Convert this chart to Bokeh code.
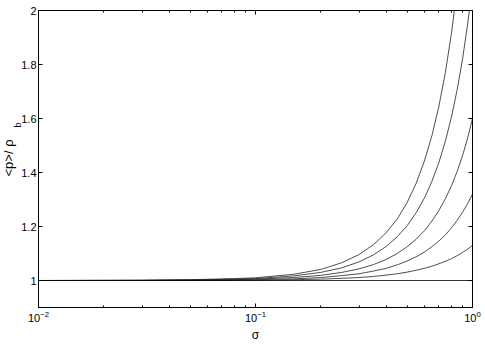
from bokeh.plotting import figure
from bokeh.models import (Range1d, LogAxis, LinearAxis, FixedTicker, Title,
                          CustomJSTickFormatter, LogTickFormatter)
from bokeh.embed import file_html
from bokeh.resources import INLINE

sigma = [0.01, 0.03, 0.05, 0.08, 0.1, 0.15, 0.2, 0.25, 0.3, 0.35, 0.4, 0.45,
         0.5, 0.55, 0.6, 0.65, 0.7, 0.75, 0.8, 0.85, 0.9, 0.95, 1.0]
curve1 = [1.000, 1.001, 1.003, 1.007, 1.010, 1.023, 1.041, 1.066, 1.096, 1.133, 1.177, 1.228,
          1.289, 1.360, 1.442, 1.536, 1.645, 1.771, 1.916, 2.083, 2.277, 2.502, 2.762]
curve2 = [1.000, 1.001, 1.002, 1.005, 1.007, 1.017, 1.030, 1.047, 1.069, 1.095, 1.126, 1.162,
          1.203, 1.251, 1.305, 1.367, 1.437, 1.516, 1.606, 1.707, 1.821, 1.950, 2.096]
curve3 = [1.000, 1.000, 1.001, 1.003, 1.005, 1.011, 1.019, 1.030, 1.043, 1.059, 1.078, 1.100,
          1.125, 1.153, 1.184, 1.220, 1.259, 1.303, 1.351, 1.404, 1.463, 1.528, 1.600]
curve4 = [1.000, 1.000, 1.001, 1.002, 1.003, 1.006, 1.011, 1.018, 1.025, 1.035, 1.045, 1.058,
          1.072, 1.088, 1.105, 1.125, 1.146, 1.169, 1.195, 1.223, 1.253, 1.285, 1.320]
curve5 = [1.000, 1.000, 1.000, 1.001, 1.001, 1.003, 1.005, 1.008, 1.011, 1.015, 1.020, 1.025,
          1.031, 1.038, 1.045, 1.053, 1.062, 1.071, 1.081, 1.092, 1.104, 1.116, 1.130]
base_x = [0.01, 1.0]
base_y = [1.0, 1.0]
x_ticks = [0.01, 0.1, 1.0]
x_minor = [0.02, 0.03, 0.04, 0.05, 0.06, 0.07, 0.08, 0.09,
           0.2, 0.3, 0.4, 0.5, 0.6, 0.7, 0.8, 0.9]
y_ticks = [1, 1.2, 1.4, 1.6, 1.8, 2]
y_tick_labels = ["1", "1.2", "1.4", "1.6", "1.8", "2"]
x_label = "σ"
y_label = "<p>/ ρ"
y_label_sub = "b"

FONT = "Liberation Sans"

p = figure(width=485, height=344, x_axis_type="log", output_backend="svg",
           toolbar_location=None, x_range=Range1d(0.01, 1.0), y_range=Range1d(0.9, 2.0),
           min_border_left=35, min_border_top=10, min_border_right=13, min_border_bottom=34)
p.xgrid.visible = False
p.ygrid.visible = False
p.outline_line_color = "black"
p.outline_line_width = 1
p.background_fill_color = "white"
p.border_fill_color = "white"

for c in [curve1, curve2, curve3, curve4, curve5]:
    p.line(sigma, c, line_color="#222222", line_width=0.8)
p.line(base_x, base_y, line_color="black", line_width=0.8)

xa = p.xaxis[0]
xa.ticker = FixedTicker(ticks=x_ticks, minor_ticks=x_minor)
xa.formatter = LogTickFormatter()
ya = p.yaxis[0]
ya.ticker = FixedTicker(ticks=y_ticks)
ya.major_label_overrides = {t: l for t, l in zip(y_ticks, y_tick_labels)}

for ax in (xa, ya):
    ax.major_tick_in = 4
    ax.major_tick_out = 0
    ax.minor_tick_in = 2
    ax.minor_tick_out = 0
    ax.axis_line_color = "black"
    ax.major_tick_line_color = "black"
    ax.minor_tick_line_color = "black"
    ax.major_label_text_font = FONT
    ax.major_label_text_font_size = "11px"
    ax.major_label_text_color = "black"
    ax.axis_label_text_font = FONT
    ax.axis_label_text_font_size = "12px"
    ax.axis_label_text_font_style = "normal"
    ax.axis_label_text_color = "black"
    ax.major_label_standoff = 3
ya.major_label_standoff = 2
ya.minor_tick_line_color = None
xa.axis_label = x_label
xa.axis_label_standoff = 3


def make_title(text, offset, size, standoff):
    kw = dict(text=text, align="left", offset=offset, text_font=FONT,
              text_font_size=size, text_font_style="normal", text_color="black")
    try:
        return Title(standoff=standoff, **kw)
    except Exception:
        return Title(standoff=0, **kw)


p.add_layout(make_title(y_label_sub, 180, "9px", -8), "left")
p.add_layout(make_title(y_label, 131, "13px", -3), "left")

blank = CustomJSTickFormatter(code="return ''")
top = LogAxis(ticker=FixedTicker(ticks=x_ticks, minor_ticks=x_minor), formatter=blank,
              major_tick_in=4, major_tick_out=0, minor_tick_in=2, minor_tick_out=0,
              major_label_standoff=0, major_label_text_font_size="1px")
right = LinearAxis(ticker=FixedTicker(ticks=y_ticks), formatter=blank,
                   major_tick_in=4, major_tick_out=0, minor_tick_line_color=None,
                   major_label_standoff=0, major_label_text_font_size="1px")
p.add_layout(top, "above")
p.add_layout(right, "right")

open("out.html", "w").write(file_html(p, INLINE))
